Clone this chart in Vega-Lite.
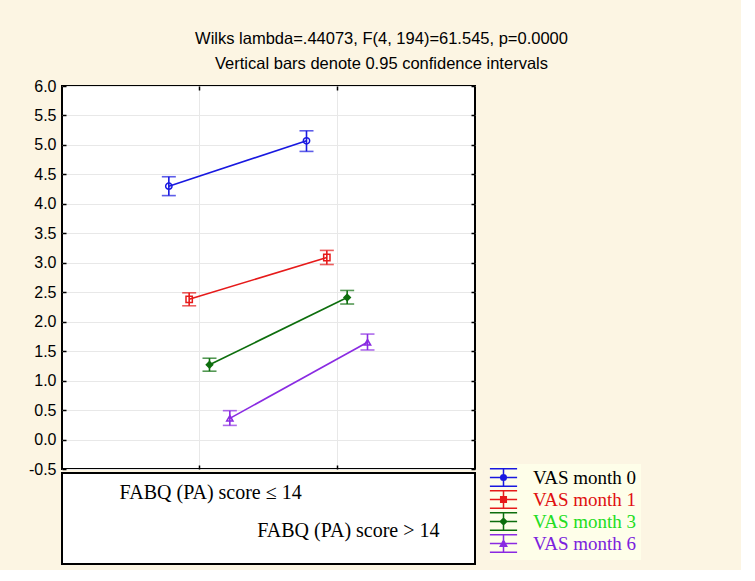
{
  "$schema": "https://vega.github.io/schema/vega-lite/v6.json",
  "background": "#fcf5e3",
  "padding": {"left": 27, "top": 30, "right": 100, "bottom": 5},
  "bounds": "flush",
  "title": {
    "text": ["Wilks lambda=.44073, F(4, 194)=61.545, p=0.0000", "Vertical bars denote 0.95 confidence intervals"],
    "font": "Liberation Sans",
    "fontSize": 16.5,
    "fontWeight": "normal",
    "lineHeight": 25,
    "anchor": "middle",
    "frame": "group",
    "dx": 113,
    "offset": 5,
    "color": "black"
  },
  "datasets": {
    "means": [
      {"group": "FABQ (PA) score ≤ 14", "series": "VAS month 0", "mean": 4.30, "lo": 4.14, "hi": 4.46},
      {"group": "FABQ (PA) score > 14", "series": "VAS month 0", "mean": 5.07, "lo": 4.89, "hi": 5.24},
      {"group": "FABQ (PA) score ≤ 14", "series": "VAS month 1", "mean": 2.38, "lo": 2.27, "hi": 2.49},
      {"group": "FABQ (PA) score > 14", "series": "VAS month 1", "mean": 3.09, "lo": 2.97, "hi": 3.21},
      {"group": "FABQ (PA) score ≤ 14", "series": "VAS month 3", "mean": 1.27, "lo": 1.16, "hi": 1.38},
      {"group": "FABQ (PA) score > 14", "series": "VAS month 3", "mean": 2.41, "lo": 2.30, "hi": 2.53},
      {"group": "FABQ (PA) score ≤ 14", "series": "VAS month 6", "mean": 0.36, "lo": 0.24, "hi": 0.49},
      {"group": "FABQ (PA) score > 14", "series": "VAS month 6", "mean": 1.65, "lo": 1.52, "hi": 1.79}
    ],
    "groups": [
      {"group": "FABQ (PA) score ≤ 14"},
      {"group": "FABQ (PA) score > 14"}
    ]
  },
  "config": {
    "font": "Liberation Sans",
    "view": {"stroke": "black", "strokeWidth": 2, "fill": "white"},
    "legend": {
      "orient": "none",
      "legendX": 428,
      "legendY": 378,
      "title": null,
      "labelFont": "Liberation Serif",
      "labelFontSize": 19,
      "symbolSize": 256,
      "labelOffset": 20,
      "rowPadding": -4.5,
      "padding": 4,
      "fillColor": "#fefee9",
      "symbolStrokeWidth": 1.5,
      "symbolFillColor": "transparent"
    }
  },
  "spacing": 4,
  "vconcat": [
    {
      "width": 413,
      "height": 383,
      "data": {"name": "means"},
      "encoding": {
        "xOffset": {"field": "series", "type": "nominal", "scale": {"type": "point", "range": [38, 99], "padding": 0, "domain": ["VAS month 0", "VAS month 1", "VAS month 3", "VAS month 6"]}},
        "color": {
          "field": "series",
          "type": "nominal",
          "scale": {"domain": ["VAS month 0", "VAS month 1", "VAS month 3", "VAS month 6"], "range": ["#1818e0", "#e61a1a", "#0d6e0d", "#8a2be2"]},
          "legend": {
            "encode": {
              "labels": {"update": {"fill": {"signal": "datum.value === 'VAS month 0' ? '#000000' : datum.value === 'VAS month 1' ? '#e01010' : datum.value === 'VAS month 3' ? '#22dd22' : '#7b22dd'"}}},
              "symbols": {"update": {
                "shape": {"signal": "'M-1.7,-1.1H1.7M-1.7,1.1H1.7M-1.7,0H1.7M0,-1.1V1.1' + (datum.value === 'VAS month 0' ? 'M0.35,0A0.35,0.35,0,1,1,-0.35,0A0.35,0.35,0,1,1,0.35,0' : datum.value === 'VAS month 1' ? 'M-0.35,-0.35H0.35V0.35H-0.35Z' : datum.value === 'VAS month 3' ? 'M0,-0.4L0.4,0L0,0.4L-0.4,0Z' : 'M0,-0.4L0.4,0.35H-0.4Z')"},
                "fill": {"signal": "datum.value === 'VAS month 3' ? '#0d6e0d' : 'transparent'"},
                "strokeWidth": {"value": 1.5},
                "opacity": {"value": 1}
              }}
            }
          }
        }
      },
      "layer": [
        {
          "mark": {"type": "rule", "strokeWidth": 1.6},
          "encoding": {
            "x": {"field": "group", "type": "nominal", "scale": {"type": "band", "paddingInner": 0, "paddingOuter": 0.5, "domain": ["FABQ (PA) score ≤ 14", "FABQ (PA) score > 14"]},
              "axis": {"orient": "bottom", "labels": false, "title": null, "domain": false, "grid": true, "gridColor": "#e8e8e8", "ticks": true, "tickSize": -4, "tickColor": "black", "tickWidth": 1.5}},
            "y": {"field": "lo", "type": "quantitative", "scale": {"domain": [-0.5, 6], "nice": false, "zero": false},
              "axis": {"orient": "left", "title": null, "values": [-0.5, 0, 0.5, 1, 1.5, 2, 2.5, 3, 3.5, 4, 4.5, 5, 5.5, 6], "labelExpr": "datum.value < 0 ? '-' + format(-datum.value, '.1f') : format(datum.value, '.1f')", "labelFontSize": 16, "labelColor": "black", "labelPadding": 10, "domain": false, "grid": true, "gridColor": "#e8e8e8", "tickSize": -4, "tickColor": "black", "tickWidth": 1.5}},
            "y2": {"field": "hi"}
          }
        },
        {
          "mark": {"type": "tick", "thickness": 1.6, "size": 14, "orient": "horizontal"},
          "encoding": {
            "x": {"field": "group", "type": "nominal", "axis": null},
            "y": {"field": "lo", "type": "quantitative", "axis": null}
          }
        },
        {
          "mark": {"type": "tick", "thickness": 1.6, "size": 14, "orient": "horizontal"},
          "encoding": {
            "x": {"field": "group", "type": "nominal", "axis": null},
            "y": {"field": "hi", "type": "quantitative", "axis": null}
          }
        },
        {
          "mark": {"type": "line", "strokeWidth": 1.6},
          "encoding": {
            "x": {"field": "group", "type": "nominal", "axis": {"orient": "top", "labels": false, "title": null, "domain": false, "grid": false, "tickSize": -4, "tickColor": "black", "tickWidth": 1.5}},
            "y": {"field": "mean", "type": "quantitative", "axis": {"orient": "right", "labels": false, "title": null, "values": [-0.5, 0, 0.5, 1, 1.5, 2, 2.5, 3, 3.5, 4, 4.5, 5, 5.5, 6], "domain": false, "grid": false, "tickSize": -4, "tickColor": "black", "tickWidth": 1.5}},
            "detail": {"field": "series"}
          }
        },
        {
          "mark": {"type": "point", "filled": false, "size": 40, "strokeWidth": 1.5, "opacity": 1},
          "encoding": {
            "x": {"field": "group", "type": "nominal", "axis": null},
            "y": {"field": "mean", "type": "quantitative", "axis": null},
            "shape": {"condition": [
              {"test": "datum.series === 'VAS month 0'", "value": "circle"},
              {"test": "datum.series === 'VAS month 1'", "value": "square"},
              {"test": "datum.series === 'VAS month 3'", "value": "diamond"}
            ], "value": "triangle-up"},
            "fill": {"condition": {"test": "datum.series === 'VAS month 3'", "value": "#0d6e0d"}, "value": "transparent"}
          }
        }
      ],
      "resolve": {"axis": {"x": "independent", "y": "independent"}}
    },
    {
      "width": 413,
      "height": 91,
      "data": {"name": "groups"},
      "mark": {"type": "text", "font": "Liberation Serif", "fontSize": 20, "dx": 11, "baseline": "middle", "color": "black"},
      "encoding": {
        "x": {"field": "group", "type": "nominal", "scale": {"type": "band", "paddingInner": 0, "paddingOuter": 0.5, "domain": ["FABQ (PA) score ≤ 14", "FABQ (PA) score > 14"]}, "axis": null},
        "y": {"field": "group", "type": "nominal", "scale": {"type": "point", "padding": 0, "domain": ["FABQ (PA) score ≤ 14", "FABQ (PA) score > 14"], "range": [20, 58]}, "axis": null},
        "text": {"field": "group"}
      }
    }
  ]
}
